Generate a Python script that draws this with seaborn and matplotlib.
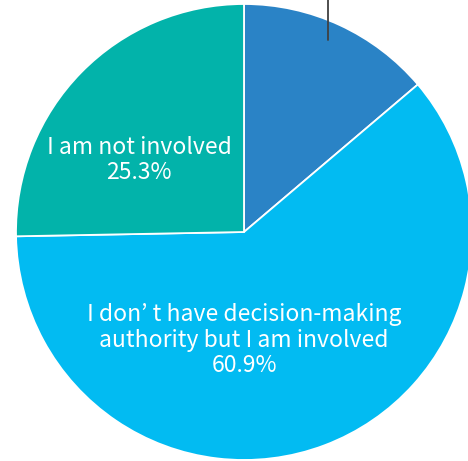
import matplotlib.pyplot as plt
import seaborn as sns

# data
categories = ['I have decision-making authority',
              'I don’ t have decision-making\nauthority but I am involved',
              'I am not involved']
shares = [13.8, 60.9, 25.3]
colors = ['#2a83c6', '#02bbf2', '#02b3aa']

sns.set_theme(style='white')
plt.rcParams['font.family'] = ['Noto Sans CJK JP', 'DejaVu Sans']

fig = plt.figure(figsize=(4.68, 4.61), dpi=100)
ax = fig.add_axes([0, 0, 1, 1])

R = 228.0
cx, cy = 244.0, 232.0
wedges, _ = ax.pie(shares, colors=colors, startangle=90, counterclock=False,
                   radius=1.0, wedgeprops=dict(edgecolor='white', linewidth=1.3))

ax.set_xlim(-cx / R, (468 - cx) / R)
ax.set_ylim(-(461 - cy) / R, cy / R)
ax.set_aspect('equal')
ax.axis('off')

# in-slice labels
ax.text(-105 / R, 72 / R, f'{categories[2]}\n{shares[2]}%', color='white',
        fontsize=16.5, ha='center', va='center', linespacing=1.12)
ax.text(0, -108 / R, f'{categories[1]}\n{shares[1]}%', color='white',
        fontsize=16.5, ha='center', va='center', linespacing=1.12)

# leader line for the small slice (label sits above the crop)
ax.plot([84 / R, 84 / R], [192 / R, 240 / R], color='#404040', linewidth=1.3,
        clip_on=False)

plt.savefig('out.png', dpi=100)
plt.close()
